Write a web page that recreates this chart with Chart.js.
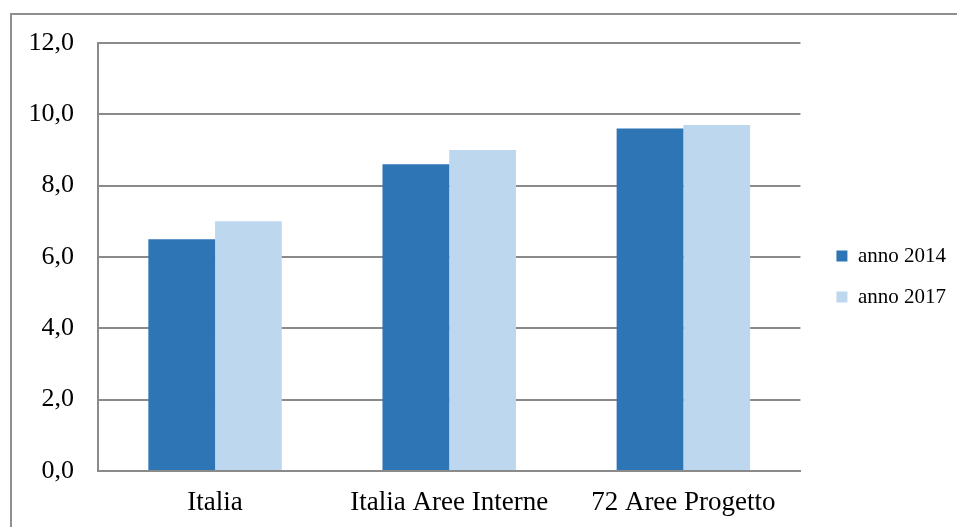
<!DOCTYPE html>
<html>
<head>
<meta charset="utf-8">
<script src="https://cdn.jsdelivr.net/npm/chart.js@4/dist/chart.umd.min.js"></script>
<style>
  html, body { margin: 0; padding: 0; background: #ffffff; overflow: hidden; }
  #frame {
    position: absolute; left: 10px; top: 13px;
    width: 960px; height: 530px;
    border-left: 2px solid #8f8f8f; border-top: 2px solid #8f8f8f;
  }
  #wrap { position: absolute; left: 0; top: 0; width: 945px; height: 512px; }
</style>
</head>
<body>
<div id="frame"><div id="wrap"><canvas id="chart"></canvas></div></div>
<script>
// Categories and series
const categories = ['Italia', 'Italia Aree Interne', '72 Aree Progetto'];
const seriesLabels = ['anno 2014', 'anno 2017'];
const values2014 = [6.5, 8.6, 9.6];
const values2017 = [7.0, 9.0, 9.7];
const yTicks = [0, 2, 4, 6, 8, 10, 12];

const serif = '"Liberation Serif", "Times New Roman", serif';
const gridGray = '#8a8a8a';

// Moves the legend block a little away from the plot area
const legendOffset = {
  id: 'legendOffset',
  afterLayout(chart) {
    const lg = chart.legend;
    if (!lg) return;
    const dx = 16, dy = -5;
    lg.left += dx; lg.right += dx;
    lg.top += dy; lg.bottom += dy;
  }
};

new Chart(document.getElementById('chart'), {
  type: 'bar',
  data: {
    labels: categories,
    datasets: [
      { label: seriesLabels[0], data: values2014, backgroundColor: '#2E75B6' },
      { label: seriesLabels[1], data: values2017, backgroundColor: '#BDD7EE' }
    ]
  },
  options: {
    responsive: true,
    maintainAspectRatio: false,
    animation: false,
    layout: { padding: { left: 0, top: 28, right: 17, bottom: 7 } },
    datasets: { bar: { categoryPercentage: 0.57, barPercentage: 1.0 } },
    plugins: {
      tooltip: { enabled: false },
      legend: {
        position: 'right',
        labels: {
          boxWidth: 11, boxHeight: 11, padding: 20,
          color: '#000000',
          font: { family: serif, size: 21 }
        }
      }
    },
    scales: {
      x: {
        afterFit(scale) { scale.height = 49; },
        grid: { display: false, drawTicks: false },
        border: { display: true, color: gridGray, width: 2 },
        ticks: { color: '#000000', padding: 16, font: { family: serif, size: 27 } }
      },
      y: {
        min: 0, max: 12,
        afterBuildTicks(scale) { scale.ticks = yTicks.map(v => ({ value: v })); },
        afterFit(scale) {
          scale.width = 86;
          scale.paddingTop = 0;
          scale.paddingBottom = 0;
        },
        grid: { color: gridGray, lineWidth: 2, drawTicks: false },
        border: { display: true, color: gridGray, width: 2 },
        ticks: {
          color: '#000000', padding: 24,
          font: { family: serif, size: 26 },
          callback: v => v.toFixed(1).replace('.', ',')
        }
      }
    }
  },
  plugins: [legendOffset]
});
</script>
</body>
</html>
